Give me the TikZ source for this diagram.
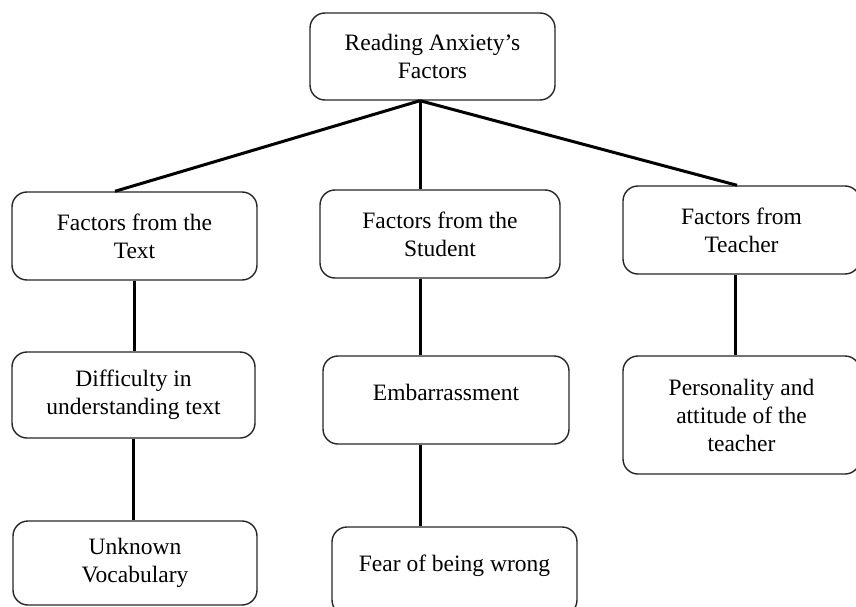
\documentclass[tikz,border=0pt]{standalone}
\usepackage{fontspec}
\setmainfont{Liberation Serif}
\begin{document}
\begin{tikzpicture}[x=1pt,y=-1pt,
  box/.style={draw=black!85, line width=1.4pt, rounded corners=15pt, align=center,
    inner sep=0pt, font=\fontsize{23.5}{28}\selectfont},
  link/.style={line width=3pt, black}]
\useasboundingbox (0,0) rectangle (856,607);
\node[box, minimum width=245pt, minimum height=87pt] (top) at (432.5,56.5) {Reading Anxiety’s\\Factors};
\node[box, minimum width=245pt, minimum height=88pt] (text) at (134.5,236) {Factors from the\\Text};
\node[box, minimum width=243pt, minimum height=86pt] (diff) at (133.5,395) {Difficulty in\\understanding text};
\node[box, minimum width=244pt, minimum height=84pt] (unk) at (135,563) {Unknown\\Vocabulary};
\node[box, minimum width=240pt, minimum height=88pt] (stud) at (440,234) {Factors from the\\Student};
\node[box, minimum width=246pt, minimum height=88pt, text height=16pt, text depth=16pt] (emb) at (446,400) {Embarrassment};
\node[box, minimum width=245pt, minimum height=88pt, text height=16pt, text depth=16pt] (fear) at (454.5,571) {Fear of being wrong};
\node[box, minimum width=237pt, minimum height=88pt] (teach) at (741.5,230) {Factors from\\Teacher};
\node[box, minimum width=237pt, minimum height=118pt] (pers) at (741.5,415) {Personality and\\attitude of the\\teacher};
\coordinate (hub) at ([xshift=-12.5pt]top.south);
\coordinate (tl) at ([xshift=-19.5pt]text.north);
\coordinate (tr) at ([xshift=-4.5pt]teach.north);
\coordinate (tb) at ([xshift=-6.5pt]teach.south);
\draw[link] (hub) -- (tl);
\draw[link] (hub) -- (stud.north -| hub);
\draw[link] (hub) -- (tr);
\draw[link] (text.south) -- (diff.north -| text.south);
\draw[link] (diff.south) -- (unk.north -| diff.south);
\draw[link] (stud.south -| hub) -- (emb.north -| hub);
\draw[link] (emb.south -| hub) -- (fear.north -| hub);
\draw[link] (tb) -- (pers.north -| tb);
\end{tikzpicture}
\end{document}
